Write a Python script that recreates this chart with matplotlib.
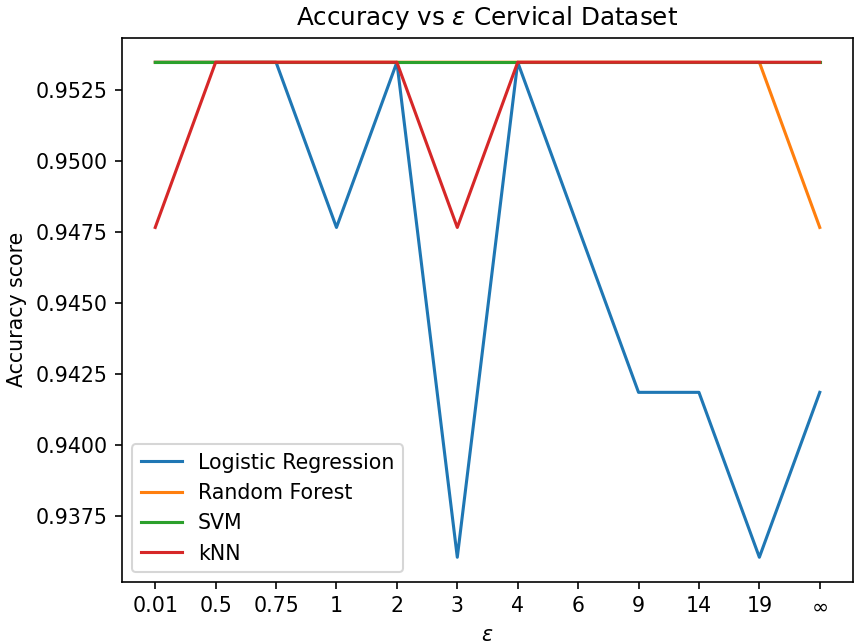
import matplotlib
matplotlib.use("Agg")
import matplotlib.pyplot as plt

eps_labels = ["0.01", "0.5", "0.75", "1", "2", "3", "4", "6", "9", "14", "19", r"$\infty$"]

logistic = [0.95349, 0.95349, 0.95349, 0.94767, 0.95349, 0.93605, 0.95349, 0.94767, 0.94186, 0.94186, 0.93605, 0.94186]
random_forest = [0.95349, 0.95349, 0.95349, 0.95349, 0.95349, 0.95349, 0.95349, 0.95349, 0.95349, 0.95349, 0.95349, 0.94767]
svm = [0.95349] * 12
knn = [0.94767, 0.95349, 0.95349, 0.95349, 0.95349, 0.94767, 0.95349, 0.95349, 0.95349, 0.95349, 0.95349, 0.95349]

DPI = 148
W, H = 859, 643
fig, ax = plt.subplots(figsize=(W / DPI, H / DPI), dpi=DPI)
fig.subplots_adjust(left=122 / W, right=853 / W, top=1 - 37.5 / H, bottom=1 - 582 / H)

ax.plot(eps_labels, logistic, label="Logistic Regression")
ax.plot(eps_labels, random_forest, label="Random Forest")
ax.plot(eps_labels, svm, label="SVM")
ax.plot(eps_labels, knn, label="kNN")

ax.set_title(r"Accuracy vs $\varepsilon$ Cervical Dataset")
ax.set_xlabel(r"$\varepsilon$")
ax.set_ylabel("Accuracy score")
ax.legend(loc="lower left")
fig.savefig("out.png", dpi=DPI)
